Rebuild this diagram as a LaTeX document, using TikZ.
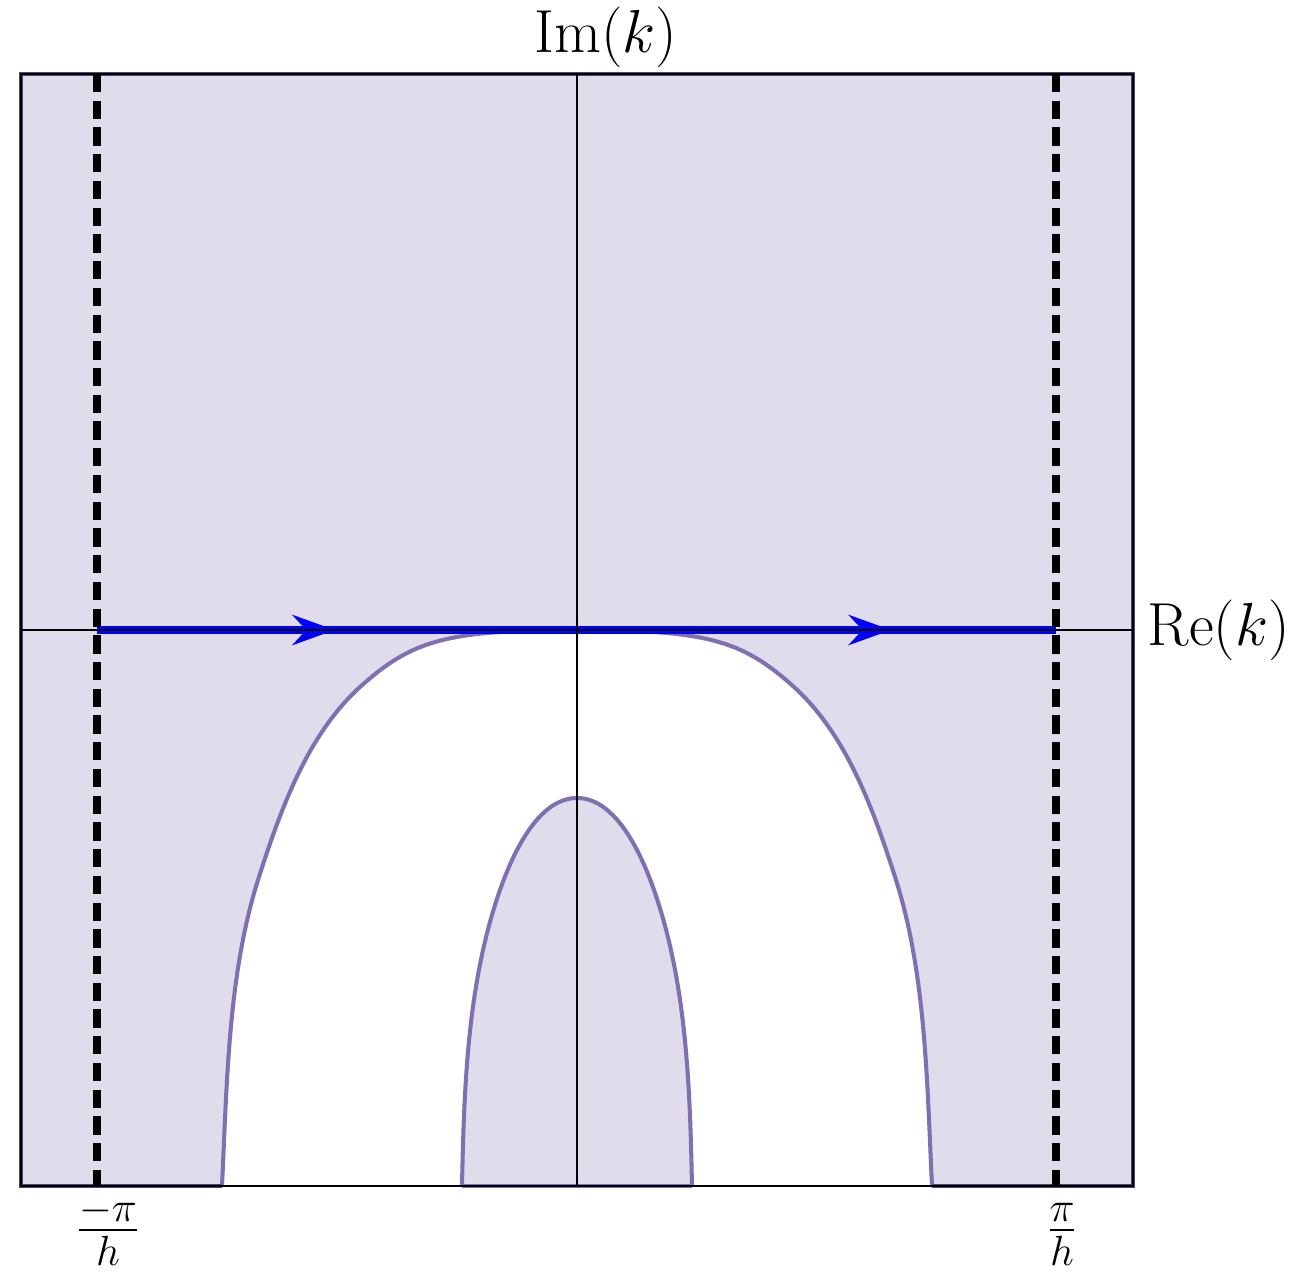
\documentclass[tikz,border=0pt]{standalone}
\usetikzlibrary{arrows.meta,decorations.markings}
\definecolor{regionfill}{RGB}{224,220,236}
\definecolor{regionedge}{RGB}{128,112,178}
\definecolor{frameedge}{RGB}{80,68,120}
\tikzset{
  curveline/.style={draw=regionedge,line width=1.15pt},
  axisline/.style={black,line width=0.4pt},
  cutline/.style={black,line width=2pt,dash pattern=on 5.2pt off 2.4pt},
  contour/.style={blue,line width=2.1pt,postaction={decorate},
    decoration={markings,
      mark=at position 0.248 with {\arrow{Stealth[length=12pt,width=8.5pt]}},
      mark=at position 0.828 with {\arrow{Stealth[length=12pt,width=8.5pt]}}}},
  lbl/.style={inner sep=0pt,font=\fontsize{18.5}{22}\selectfont}
}
\def\outerpath{(222,1186) .. controls (227,1083) and (228,975) .. (258,880)
  .. controls (280,811) and (307,735) .. (360,687)
  .. controls (412,640) and (447,630) .. (577,630)
  .. controls (707,630) and (742,640) .. (794,687)
  .. controls (847,735) and (874,811) .. (896,880)
  .. controls (926,975) and (927,1083) .. (932,1186)}
\def\innerpath{(462,1186) .. controls (464,1090) and (467,984) .. (500,890)
  .. controls (516.5,843) and (542,798) .. (577,798)
  .. controls (612,798) and (637.5,843) .. (654,890)
  .. controls (687,984) and (690,1090) .. (692,1186)}
\begin{document}
\begin{tikzpicture}[x=0.01cm,y=-0.01cm]
\useasboundingbox (0,0) rectangle (1305,1275);
% shaded region
\fill[regionfill] (21,74) rectangle (1133,1186);
% white region between the curves
\fill[white] \outerpath -- cycle;
\fill[regionfill] \innerpath -- cycle;
% region boundary curves
\draw[curveline] \outerpath;
\draw[curveline] \innerpath;
\draw[curveline,draw=frameedge] (222,1186) -- (21,1186) -- (21,74) -- (1133,74) -- (1133,1186) -- (932,1186);
\draw[curveline] (462,1186) -- (692,1186);
\draw[axisline] (21,74) rectangle (1133,1186);
% contour
\coordinate (cl) at (97,630);
\coordinate (cr) at (1056,630);
\draw[contour] (cl) -- (cr);
% branch cuts
\coordinate (dlt) at (97,74);
\coordinate (dlb) at (97,1186);
\coordinate (drt) at (1056,74);
\coordinate (drb) at (1056,1186);
\draw[cutline] (dlt) -- (dlb);
\draw[cutline] (drt) -- (drb);
% axes
\coordinate (xl) at (21,630);
\coordinate (xr) at (1133,630);
\coordinate (yt) at (577,74);
\coordinate (yb) at (577,1186);
\draw[axisline] (xl) -- (xr);
\draw[axisline] (yt) -- (yb);
% labels
\node[lbl,anchor=base] (imlab) at (606,52) {$\mathrm{Im}(k)$};
\node[lbl,anchor=base west] (relab) at (1147,645) {$\mathrm{Re}(k)$};
\node[lbl,anchor=base] (mpilab) at (108,1245) {$\frac{-\pi}{h}$};
\node[lbl,anchor=base] (pilab) at (1062,1245) {$\frac{\pi}{h}$};
\end{tikzpicture}
\end{document}
